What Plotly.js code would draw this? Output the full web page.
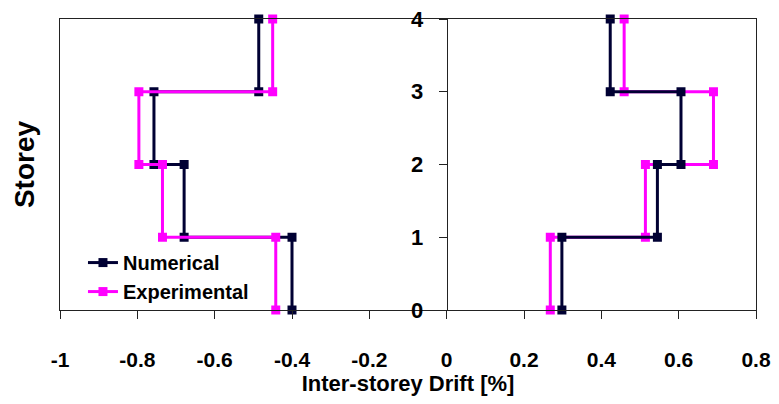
<!DOCTYPE html>
<html>
<head>
<meta charset="utf-8">
<script src="https://cdn.plot.ly/plotly-3.0.1.min.js"></script>
<style>html,body{margin:0;padding:0;background:#fff;}#chart{width:779px;height:404px;}</style>
</head>
<body>
<div id="chart"></div>
<script>
// Storey levels (path goes top to bottom, stepped)
var storeyPath = [4, 3, 3, 2, 2, 1, 1, 0];
// Left half (negative drift direction)
var numericalLeft    = [-0.486, -0.486, -0.757, -0.757, -0.679, -0.679, -0.400, -0.400];
var experimentalLeft = [-0.450, -0.450, -0.796, -0.796, -0.735, -0.735, -0.442, -0.442];
// Right half (positive drift direction)
var numericalRight    = [0.423, 0.423, 0.606, 0.606, 0.545, 0.545, 0.298, 0.298];
var experimentalRight = [0.459, 0.459, 0.690, 0.690, 0.514, 0.514, 0.268, 0.268];

var xTickVals = [-1, -0.8, -0.6, -0.4, -0.2, 0, 0.2, 0.4, 0.6, 0.8];
var xTickText = ['-1', '-0.8', '-0.6', '-0.4', '-0.2', '0', '0.2', '0.4', '0.6', '0.8'];
var yTickVals = [0, 1, 2, 3, 4];
var yTickText = ['0', '1', '2', '3', '4'];

var NAVY = '#000033';
var MAGENTA = '#FF00FF';
var FONT = '"Liberation Sans", Arial, sans-serif';

function series(x, name, color, show, yax) {
  return {
    x: x, y: storeyPath, type: 'scatter', mode: 'lines+markers', yaxis: yax,
    name: name, showlegend: show, cliponaxis: false,
    line: {color: color, width: 3},
    marker: {symbol: 'square', size: 9, color: color}
  };
}

var data = [
  series(numericalLeft, 'Numerical', NAVY, true, 'y2'),
  series(experimentalLeft, 'Experimental', MAGENTA, true, 'y2'),
  series(experimentalRight, 'Experimental', MAGENTA, false, 'y'),
  series(numericalRight, 'Numerical', NAVY, false, 'y')
];

var layout = {
  width: 779, height: 404,
  margin: {l: 60, r: 23, t: 19, b: 94},
  paper_bgcolor: '#fff', plot_bgcolor: '#fff',
  font: {family: FONT, color: '#000'},
  showlegend: true,
  legend: {
    x: 0.033, y: 0.23, xanchor: 'left', yanchor: 'top',
    tracegroupgap: 0,
    bgcolor: 'rgba(0,0,0,0)',
    font: {family: FONT, size: 20, weight: 'bold', color: '#000'}
  },
  xaxis: {
    range: [-1, 0.8], showgrid: false, zeroline: false,
    showline: true, mirror: true, linecolor: '#222', linewidth: 1,
    ticks: 'outside', ticklen: 8, tickcolor: '#222',
    tickvals: xTickVals, ticktext: xTickText,
    tickfont: {family: FONT, size: 21, weight: 'bold'},
    ticklabelstandoff: 23,
    automargin: false,
    title: {text: 'Inter-storey Drift [%]', font: {family: FONT, size: 22, weight: 'bold'}, standoff: 5}
  },
  yaxis: {
    range: [0, 4], anchor: 'free', position: 1 / 1.8, side: 'left',
    showgrid: false, zeroline: false,
    showline: true, linecolor: '#222', linewidth: 1,
    ticks: 'outside', ticklen: 8, tickcolor: '#222',
    tickvals: yTickVals, ticktext: yTickText,
    tickfont: {family: FONT, size: 22, weight: 'bold'},
    ticklabelstandoff: 11,
    automargin: false
  },
  yaxis2: {
    range: [0, 4], overlaying: 'y', anchor: 'x', side: 'left',
    showgrid: false, zeroline: false,
    showline: true, mirror: true, linecolor: '#222', linewidth: 1,
    ticks: '', showticklabels: false,
    automargin: false,
    title: {text: 'Storey', font: {family: FONT, size: 28, weight: 'bold'}, standoff: 16}
  }
};

Plotly.newPlot('chart', data, layout, {displayModeBar: false, staticPlot: true});
</script>
</body>
</html>
